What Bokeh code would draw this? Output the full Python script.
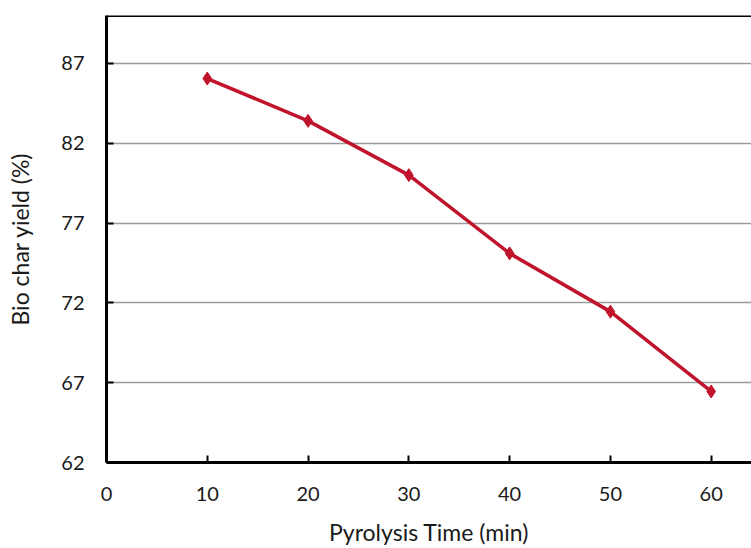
from bokeh.plotting import figure
from bokeh.models import Range1d, FixedTicker, Span
from bokeh.embed import file_html
from bokeh.resources import INLINE

time_min = [10, 20, 30, 40, 50, 60]
yield_pct = [86.05, 83.4, 80.0, 75.1, 71.45, 66.45]
x_ticks = [0, 10, 20, 30, 40, 50, 60]
y_ticks = [62, 67, 72, 77, 82, 87]

FONT = "Lato"
RED = "#c0142c"

p = figure(width=751, height=548, output_backend="svg", toolbar_location=None,
           x_range=Range1d(0, 64), y_range=Range1d(62, 90),
           min_border_left=106, min_border_right=0, min_border_top=15, min_border_bottom=86)
p.outline_line_color = None
p.background_fill_color = "white"
p.border_fill_color = "white"

p.xgrid.visible = False
p.ygrid.grid_line_color = "#9a9a9a"
p.ygrid.grid_line_width = 1.5
p.yaxis.ticker = FixedTicker(ticks=y_ticks)
p.xaxis.ticker = FixedTicker(ticks=x_ticks)

for ax in (p.xaxis[0], p.yaxis[0]):
    ax.axis_line_color = "black"
    ax.axis_line_width = 3
    ax.major_tick_in = 7
    ax.major_tick_out = 0
    ax.major_tick_line_width = 2
    ax.major_tick_line_color = "black"
    ax.minor_tick_line_color = None
    ax.major_label_text_font = FONT
    ax.major_label_text_font_size = "20px"
    ax.major_label_text_color = "#1a1a1a"
    ax.axis_label_text_font = FONT
    ax.axis_label_text_font_size = "23px"
    ax.axis_label_text_font_style = "normal"
    ax.axis_label_text_color = "#1a1a1a"

p.xaxis.axis_label = "Pyrolysis Time (min)"
p.yaxis.axis_label = "Bio char yield (%)"
p.xaxis.major_label_standoff = 24
p.yaxis.major_label_standoff = 22
p.xaxis.axis_label_standoff = 14
p.yaxis.axis_label_standoff = 24

top = Span(location=90, dimension="width", line_color="black", line_width=3)
p.add_layout(top)

p.line(time_min, yield_pct, line_color=RED, line_width=3.5)
p.scatter(time_min, yield_pct, marker="diamond", size=13, fill_color=RED, line_color=RED)

open("out.html", "w").write(file_html(p, INLINE))
